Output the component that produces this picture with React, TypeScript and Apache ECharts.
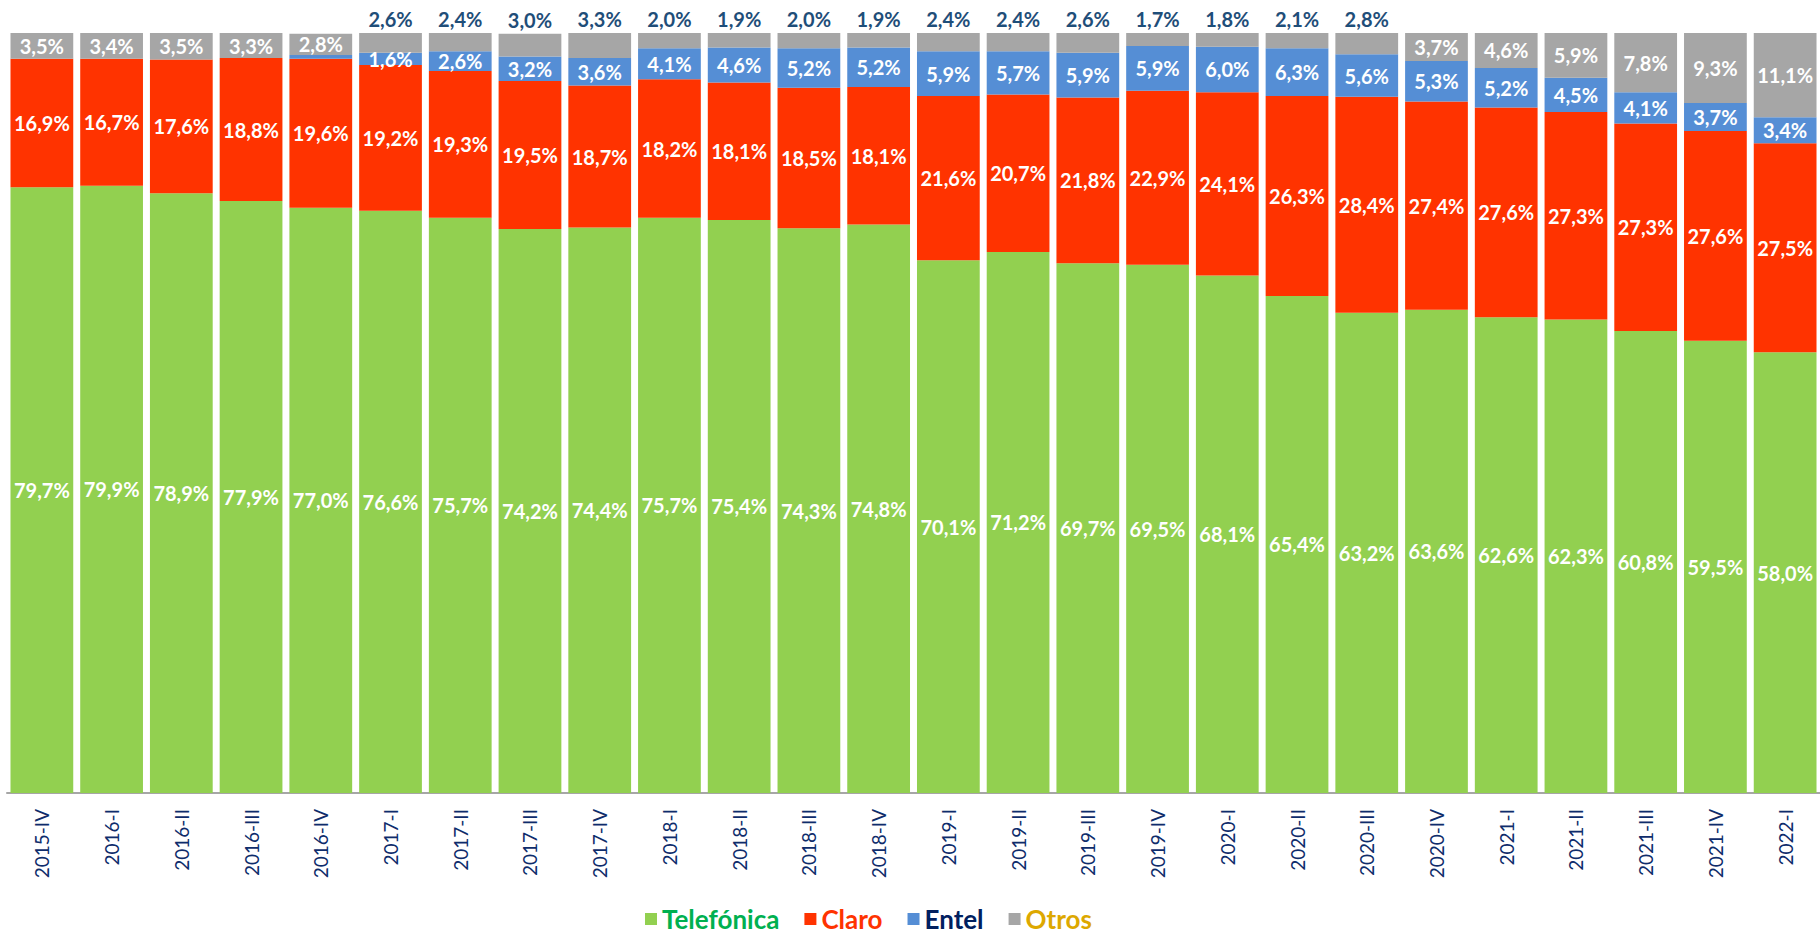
import React, { useEffect, useRef } from "react";
import * as echarts from "echarts";

const categories = [
  "2015-IV", "2016-I", "2016-II", "2016-III", "2016-IV",
  "2017-I", "2017-II", "2017-III", "2017-IV",
  "2018-I", "2018-II", "2018-III", "2018-IV",
  "2019-I", "2019-II", "2019-III", "2019-IV",
  "2020-I", "2020-II", "2020-III", "2020-IV",
  "2021-I", "2021-II", "2021-III", "2021-IV",
  "2022-I",
];

const telefonica = [
  79.7, 79.9, 78.9, 77.9, 77.0,
  76.6, 75.7, 74.2, 74.4,
  75.7, 75.4, 74.3, 74.8,
  70.1, 71.2, 69.7, 69.5,
  68.1, 65.4, 63.2, 63.6,
  62.6, 62.3, 60.8, 59.5,
  58.0,
];

const claro = [
  16.9, 16.7, 17.6, 18.8, 19.6,
  19.2, 19.3, 19.5, 18.7,
  18.2, 18.1, 18.5, 18.1,
  21.6, 20.7, 21.8, 22.9,
  24.1, 26.3, 28.4, 27.4,
  27.6, 27.3, 27.3, 27.6,
  27.5,
];

const entel = [
  0, 0, 0, 0, 0.5,
  1.6, 2.6, 3.2, 3.6,
  4.1, 4.6, 5.2, 5.2,
  5.9, 5.7, 5.9, 5.9,
  6.0, 6.3, 5.6, 5.3,
  5.2, 4.5, 4.1, 3.7,
  3.4,
];

const otros = [
  3.5, 3.4, 3.5, 3.3, 2.8,
  2.6, 2.4, 3.0, 3.3,
  2.0, 1.9, 2.0, 1.9,
  2.4, 2.4, 2.6, 1.7,
  1.8, 2.1, 2.8, 3.7,
  4.6, 5.9, 7.8, 9.3,
  11.1,
];

const seriesNames = ["Telefónica", "Claro", "Entel", "Otros"];
const barColors = ["#92D050", "#FF3300", "#558ED5", "#A6A6A6"];
const legendColors = ["#00B050", "#FF3300", "#002060", "#DDA800"];

const FONT = "Lato, 'Open Sans', sans-serif";

const fmt = (v: number) => v.toFixed(1).replace(".", ",") + "%";

export default function App() {
  const ref = useRef<HTMLDivElement>(null);

  useEffect(() => {
    document.body.style.margin = "0";
    if (!ref.current) return;
    const chart = echarts.init(ref.current, null, { renderer: "svg" });

    const insideLabel = {
      show: true,
      position: "inside",
      color: "#FFFFFF",
      fontFamily: FONT,
      fontWeight: "bold",
      fontSize: 20,
      formatter: (p: any) => (p.value >= 1 ? fmt(p.value) : ""),
    };

    const otrosData = otros.map((v, i) => {
      const outside = i >= 5 && i <= 19;
      return {
        value: v,
        label: outside
          ? {
              show: true,
              position: "top",
              distance: 4,
              color: "#1F4E79",
              fontFamily: FONT,
              fontWeight: "bold",
              fontSize: 20,
              formatter: (p: any) => fmt(p.value),
            }
          : insideLabel,
      };
    });

    const seriesData = [telefonica, claro, entel, otrosData];

    chart.setOption({
      animation: false,
      backgroundColor: "#FFFFFF",
      grid: { left: 7, right: 0, top: 33, bottom: 143, containLabel: false },
      legend: {
        top: 905,
        left: 645,
        itemWidth: 12,
        itemHeight: 12,
        itemGap: 25,
        icon: "rect",
        padding: 0,
        data: seriesNames.map((n, i) => ({
          name: n,
          textStyle: {
            color: legendColors[i],
            fontFamily: FONT,
            fontWeight: "bold",
            fontSize: 26,
            lineHeight: 28,
          },
        })),
      },
      xAxis: {
        type: "category",
        data: categories,
        axisTick: { show: false },
        axisLine: { lineStyle: { color: "#A6A6A6", width: 2 } },
        axisLabel: {
          rotate: 90,
          margin: 16,
          color: "#0E2C6B",
          fontFamily: FONT,
          fontSize: 19,
          interval: 0,
        },
      },
      yAxis: {
        type: "value",
        min: 0,
        max: 100,
        show: false,
        splitLine: { show: false },
      },
      series: seriesNames.map((name, i) => ({
        name,
        type: "bar",
        stack: "total",
        barCategoryGap: "10%",
        itemStyle: { color: barColors[i] },
        label: insideLabel,
        data: seriesData[i],
      })),
    });

    return () => chart.dispose();
  }, []);

  return <div ref={ref} style={{ width: 1820, height: 936 }} />;
}
